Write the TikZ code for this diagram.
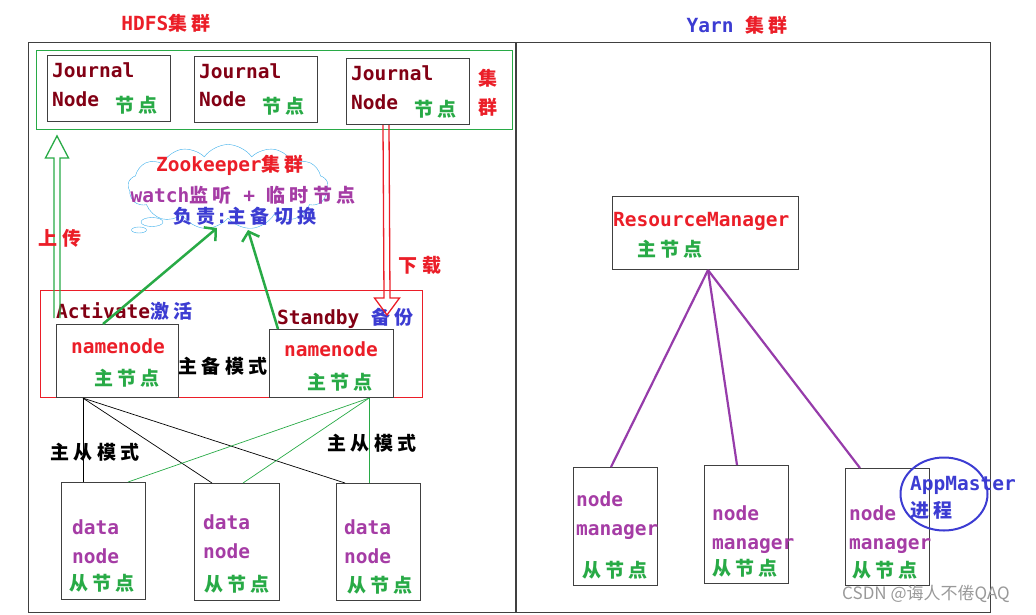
\documentclass[tikz,border=0pt]{standalone}
\usepackage{fontspec}
\setmainfont{DejaVu Sans Mono}
\newfontfamily\cjk[LetterSpace=22]{Noto Sans CJK SC}
\newfontfamily\wmfont{Noto Sans CJK SC}
\usetikzlibrary{positioning,arrows.meta,calc,shapes.symbols,shapes.geometric}
\definecolor{hdred}{RGB}{235,30,40}
\definecolor{jnred}{RGB}{130,0,20}
\definecolor{hdgreen}{RGB}{40,170,70}
\definecolor{hdpurple}{RGB}{165,60,165}
\definecolor{hdblue}{RGB}{60,60,210}
\definecolor{zkblue}{RGB}{60,175,235}
\definecolor{lnpurple}{RGB}{150,60,170}
\newcommand{\zh}[1]{{\cjk\fontsize{19}{23}\selectfont #1}}
\tikzset{
	cluster/.style={draw=black!75,line width=1.2pt,anchor=north west,inner sep=0},
	box/.style={draw=black!75,line width=1.1pt,anchor=north west,inner sep=0},
	lbl/.style={inner sep=0,text height=14pt,text depth=0pt,anchor=west,
		font=\bfseries\fontsize{19.5}{23}\selectfont},
	clbl/.style={lbl,anchor=center},
	hollow/.style={line width=1.3pt,line join=miter},
	zkarrow/.style={draw=hdgreen,line width=2.5pt,-{Straight Barb[length=8pt,width=18pt]}},
	master/.style={draw=black,line width=0.7pt},
	standby/.style={draw=hdgreen,line width=0.7pt},
	rmlink/.style={draw=lnpurple,line width=2.2pt}
}

\begin{document}
\begin{tikzpicture}[x=1pt,y=-1pt]
\useasboundingbox (0,0) rectangle (1036,614);

% the two clusters
\node[cluster,minimum width=962pt,minimum height=570pt] (all) at (28,42) {};
\draw[draw=black!75,line width=1.2pt] ([xshift=488pt]all.north west) -- ([xshift=488pt]all.south west);
\node[clbl,text=hdred] (hdfs) at (166,23) {HDFS\zh{集群}};
\node[clbl] (yarn) at (737,25) {\textcolor{hdblue}{Yarn} \textcolor{hdred}{\zh{集群}}};

% journal nodes
\node[box,draw=hdgreen,line width=0.9pt,minimum width=476pt,minimum height=79pt] (jbox) at (36,50) {};
\node[box,minimum width=123pt,minimum height=66pt] (j1) at (47,55) {};
\node[box,minimum width=123pt,minimum height=66pt] (j2) at (194,56) {};
\node[box,minimum width=123pt,minimum height=66pt] (j3) at (346,58) {};
\node[lbl,text=jnred] (j1a) at ($(j1.north west)+(5,15)$) {Journal};
\node[lbl,text=jnred] (j1b) at ($(j1.north west)+(5,44)$) {Node};
\node[lbl,text=hdgreen] (j1c) at ($(j1.north west)+(68,50)$) {\zh{节点}};
\node[lbl,text=jnred] (j2a) at ($(j2.north west)+(5,15)$) {Journal};
\node[lbl,text=jnred] (j2b) at ($(j2.north west)+(5,43)$) {Node};
\node[lbl,text=hdgreen] (j2c) at ($(j2.north west)+(68,50)$) {\zh{节点}};
\node[lbl,text=jnred] (j3a) at ($(j3.north west)+(5,15)$) {Journal};
\node[lbl,text=jnred] (j3b) at ($(j3.north west)+(5,44)$) {Node};
\node[lbl,text=hdgreen] (j3c) at ($(j3.north west)+(68,51)$) {\zh{节点}};
\node[clbl,text=hdred] (jq1) at (488,78) {\zh{集}};
\node[clbl,text=hdred] (jq2) at (488,107) {\zh{群}};

% zookeeper
\node[cloud,draw=zkblue,cloud puffs=13,cloud puff arc=110,aspect=2.3,
	minimum width=200pt,minimum height=85pt] (zk) at (228,187) {};
\node[ellipse,draw=zkblue,fill=white,minimum width=22pt,minimum height=9pt,inner sep=0] (zkp1) at (152,222) {};
\node[ellipse,draw=zkblue,fill=white,minimum width=15pt,minimum height=6pt,inner sep=0] (zkp2) at (139,230) {};
\node[clbl,text=hdred] (zka) at (230,164) {Zookeeper\zh{集群}};
\node[clbl,text=hdpurple] (zkb) at (243,195) {watch\zh{监听} + \zh{临时节点}};
\node[clbl,text=hdblue] (zkc) at (245,216) {\zh{负责}:\zh{主备切换}};
\coordinate (zk1) at (217,228);
\coordinate (zk2) at (248,230);

% namenodes
\node[box,draw=hdred,line width=0.8pt,minimum width=382pt,minimum height=107pt] (rb) at (40,290) {};
\node[box,minimum width=122pt,minimum height=73pt] (nn1) at (56,324) {};
\node[box,minimum width=124pt,minimum height=68pt] (nn2) at (269,329) {};
\node[lbl] (act) at (56,311) {\textcolor{jnred}{Activate}\textcolor{hdblue}{\zh{激活}}};
\node[lbl] (sby) at (277,317) {\textcolor{jnred}{Standby} \textcolor{hdblue}{\zh{备份}}};
\node[clbl,text=hdred] (nn1a) at (118,346) {namenode};
\node[clbl,text=hdgreen] (nn1b) at (127,378) {\zh{主节点}};
\node[clbl,text=hdred] (nn2a) at (331,349) {namenode};
\node[clbl,text=hdgreen] (nn2b) at (340,382) {\zh{主节点}};
\node[clbl] (ha) at (223,366) {\zh{主备模式}};

% upload / download
\coordinate (up0) at ($(nn1.north west)+(1,-6)$);
\coordinate (up1) at ($(nn1.north west |- jbox.south)+(1,6)$);
\coordinate (dl0) at ($(j3.south west)+(40,0)$);
\coordinate (dl1) at ($(nn2.north west)+(118,-14)$);
\draw[hollow,draw=hdgreen] ($(up0)+(-3,0)$) -- ($(up1)+(-3,22)$) -- ($(up1)+(-11.5,22)$) -- (up1)
	-- ($(up1)+(11.5,22)$) -- ($(up1)+(3,22)$) -- ($(up0)+(3,0)$);
\draw[hollow,draw=hdred] ($(dl0)+(-3,0)$) -- ($(dl1)+(-3,-17)$) -- ($(dl1)+(-12.5,-17)$) -- (dl1)
	-- ($(dl1)+(12.5,-17)$) -- ($(dl1)+(3,-17)$) -- ($(dl0)+(3,0)$);
\node[clbl,text=hdred] (up) at (60,238) {\zh{上传}};
\node[clbl,text=hdred] (down) at (420,265) {\zh{下载}};
\draw[zkarrow] ([xshift=47pt]nn1.north west) -- (zk1);
\draw[zkarrow] ([xshift=9pt]nn2.north west) -- (zk2);

% datanodes
\node[box,minimum width=84pt,minimum height=117pt] (dn1) at (61,482) {};
\node[box,minimum width=85pt,minimum height=117pt] (dn2) at (194,483) {};
\node[box,minimum width=84pt,minimum height=117pt] (dn3) at (336,483) {};
\node[lbl,text=hdpurple] (dn1a) at (72,527) {data};
\node[lbl,text=hdpurple] (dn1b) at (72,556) {node};
\node[lbl,text=hdgreen] (dn1c) at (69,583) {\zh{从节点}};
\node[lbl,text=hdpurple] (dn2a) at (203,522) {data};
\node[lbl,text=hdpurple] (dn2b) at (203,551) {node};
\node[lbl,text=hdgreen] (dn2c) at (204,584) {\zh{从节点}};
\node[lbl,text=hdpurple] (dn3a) at (344,527) {data};
\node[lbl,text=hdpurple] (dn3b) at (344,556) {node};
\node[lbl,text=hdgreen] (dn3c) at (347,585) {\zh{从节点}};
\draw[master] ([xshift=27pt]nn1.south west) -- ([xshift=22pt]dn1.north west);
\draw[master] ([xshift=27pt]nn1.south west) -- ([xshift=18pt]dn2.north west);
\draw[master] ([xshift=27pt]nn1.south west) -- ([xshift=9pt]dn3.north west);
\draw[standby] ([xshift=100pt]nn2.south west) -- ([xshift=67pt]dn1.north west);
\draw[standby] ([xshift=100pt]nn2.south west) -- ([xshift=49pt]dn2.north west);
\draw[standby] ([xshift=100pt]nn2.south west) -- ([xshift=33pt]dn3.north west);
\node[clbl] (ms1) at (95,452) {\zh{主从模式}};
\node[clbl] (ms2) at (372,443) {\zh{主从模式}};

% yarn
\node[box,minimum width=186pt,minimum height=73pt] (rm) at (612,196) {};
\node[lbl,text=hdred] (rma) at (613,219) {ResourceManager};
\node[clbl,text=hdgreen] (rmb) at (670,249) {\zh{主节点}};
\node[box,minimum width=84pt,minimum height=118pt] (nm1) at (573,467) {};
\node[box,minimum width=84pt,minimum height=118pt] (nm2) at (704,465) {};
\node[box,minimum width=84pt,minimum height=117pt] (nm3) at (845,468) {};
\node[lbl,text=hdpurple] (nm1a) at (576,499) {node};
\node[lbl,text=hdpurple] (nm1b) at (576,528) {manager};
\node[clbl,text=hdgreen] (nm1c) at (615,570) {\zh{从节点}};
\node[lbl,text=hdpurple] (nm2a) at (712,513) {node};
\node[lbl,text=hdpurple] (nm2b) at (712,542) {manager};
\node[clbl,text=hdgreen] (nm2c) at (745,568) {\zh{从节点}};
\node[lbl,text=hdpurple] (nm3a) at (849,513) {node};
\node[lbl,text=hdpurple] (nm3b) at (849,542) {manager};
\node[clbl,text=hdgreen] (nm3c) at (885,570) {\zh{从节点}};
\draw[rmlink] ([xshift=96pt]rm.south west) -- ([xshift=38pt]nm1.north west);
\draw[rmlink] ([xshift=96pt]rm.south west) -- ([xshift=33pt]nm2.north west);
\draw[rmlink] ([xshift=96pt]rm.south west) -- ([xshift=15pt]nm3.north west);
\node[ellipse,draw=hdblue,line width=2pt,minimum width=87pt,minimum height=73pt] (am) at (944,494) {};
\node[lbl,text=hdblue] (ama) at (910,483) {AppMaster};
\node[lbl,text=hdblue] (amb) at (910,510) {\zh{进程}};

\node[font=\wmfont\fontsize{17}{20}\selectfont,text=black!40] (wm) at (926,594) {CSDN @诲人不倦QAQ};
\end{tikzpicture}
\end{document}
